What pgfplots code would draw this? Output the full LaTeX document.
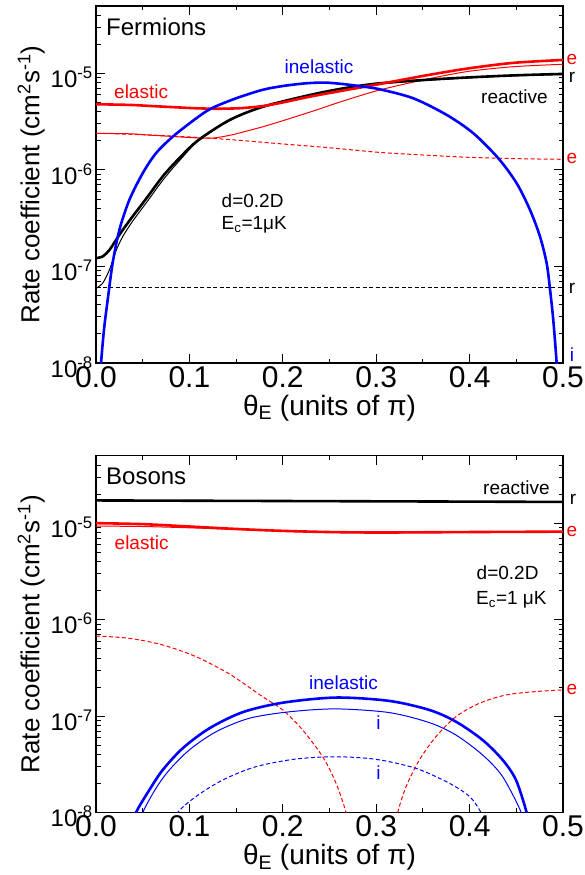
\documentclass[border=0pt]{standalone}
\usepackage{fontspec}
\setmainfont{Liberation Sans}
\usepackage{pgfplots}
\pgfplotsset{compat=1.18}
\newcommand\fs[1]{\fontsize{#1}{#1}\selectfont}
\definecolor{myred}{RGB}{255,0,0}
\definecolor{myblue}{RGB}{0,0,255}
\pgfplotsset{
  thickl/.style={line width=2.6pt, smooth},
  thinl/.style={line width=1pt, smooth},
  dashl/.style={line width=1pt, smooth, dash pattern=on 4pt off 2.5pt},
}
\begin{document}
\begin{tikzpicture}
\useasboundingbox (0,0) rectangle (584pt,875pt);
% ---------------- Fermions ----------------
\begin{axis}[at={(96pt,512pt)},
    width=467pt, height=357pt, scale only axis, anchor=south west,
    xmin=0, xmax=0.5, ymode=log, ymin=1e-8, ymax=5e-5,
    xtick={0,0.1,0.2,0.3,0.4,0.5}, xticklabels={0.0,0.1,0.2,0.3,0.4,0.5},
    minor xtick={0.05,0.15,0.25,0.35,0.45},
    ytick={1e-8,1e-7,1e-6,1e-5},
    yticklabels={10\textsuperscript{-8},10\textsuperscript{-7},10\textsuperscript{-6},10\textsuperscript{-5}},
    minor ytick={2e-8,3e-8,4e-8,5e-8,6e-8,7e-8,8e-8,9e-8,2e-7,3e-7,4e-7,5e-7,6e-7,7e-7,8e-7,9e-7,2e-6,3e-6,4e-6,5e-6,6e-6,7e-6,8e-6,9e-6,2e-5,3e-5,4e-5},
    major tick length=9pt, minor tick length=4.5pt,
    tick style={black, line width=1pt},
    tick align=inside,
    axis line style={line width=1.2pt},
    xticklabel style={font=\fs{30}, anchor=north, inner sep=0pt, yshift=-3pt},
    yticklabel style={font=\fs{24}, anchor=east, inner sep=0pt, xshift=-3pt, yshift=-4pt},
    xlabel={θ\textsubscript{E} (units of π)},
    ylabel={Rate coefficient (cm\textsuperscript{2}s\textsuperscript{-1})},
    xlabel style={font=\fs{28}, at={(axis description cs:0.5,-0.1457)}, anchor=base, inner sep=0pt},
    ylabel style={font=\fs{26}, at={(axis description cs:-0.121,0.5)}, anchor=base, inner sep=0pt},
]
% black dashed
\addplot[black, dashl] coordinates {(0,6.0e-8) (0.25,6.0e-8) (0.5,6.0e-8)};
% red dashed
\addplot[myred, dashl] coordinates {(0,2.40e-6) (0.05,2.32e-6) (0.107,2.18e-6) (0.15,2.04e-6) (0.2,1.86e-6) (0.25,1.70e-6) (0.304,1.52e-6) (0.35,1.43e-6) (0.397,1.355e-6) (0.45,1.31e-6) (0.5,1.29e-6)};
% black thin
\addplot[black, thinl] coordinates {(0,5.94e-8) (0.0071,6.70e-8) (0.0143,9.20e-8) (0.0214,1.45e-7) (0.0286,2.04e-7) (0.0393,2.95e-7) (0.0535,4.52e-7) (0.072,7.94e-7) (0.09,1.27e-6) (0.1096,2.00e-6) (0.1435,3.27e-6) (0.179,4.49e-6) (0.229,5.94e-6) (0.2645,6.95e-6) (0.3005,7.76e-6) (0.3505,8.45e-6) (0.397,8.97e-6) (0.447,9.45e-6) (0.5,9.77e-6)};
% red thin
\addplot[myred, thinl] coordinates {(0,2.40e-6) (0.0364,2.37e-6) (0.0535,2.31e-6) (0.08,2.23e-6) (0.1078,2.15e-6) (0.125,2.14e-6) (0.1435,2.29e-6) (0.16,2.51e-6) (0.179,2.81e-6) (0.2,3.24e-6) (0.229,3.98e-6) (0.268,5.31e-6) (0.304,6.75e-6) (0.3505,8.57e-6) (0.397,1.045e-5) (0.447,1.175e-5) (0.5,1.245e-5)};
% black thick
\addplot[black, thickl] coordinates {(0,1.22e-7) (0.0071,1.27e-7) (0.0143,1.48e-7) (0.0214,1.88e-7) (0.0286,2.39e-7) (0.0393,3.31e-7) (0.0535,5.01e-7) (0.072,8.71e-7) (0.09,1.35e-6) (0.1096,2.04e-6) (0.1435,3.31e-6) (0.179,4.53e-6) (0.229,5.98e-6) (0.2645,7.0e-6) (0.3005,7.85e-6) (0.3505,8.55e-6) (0.397,9.08e-6) (0.447,9.55e-6) (0.5,9.89e-6)};
% red thick
\addplot[myred, thickl] coordinates {(0,4.80e-6) (0.0364,4.72e-6) (0.0535,4.63e-6) (0.08,4.49e-6) (0.107,4.36e-6) (0.13,4.31e-6) (0.155,4.37e-6) (0.179,4.60e-6) (0.2,5.01e-6) (0.229,5.75e-6) (0.26,6.53e-6) (0.3005,7.67e-6) (0.3505,9.44e-6) (0.397,1.122e-5) (0.447,1.288e-5) (0.5,1.38e-5)};
% blue thick
\addplot[myblue, thickl] coordinates {(0.0045,7.08e-9) (0.0054,1.0e-8) (0.0085,2.19e-8) (0.0125,4.50e-8) (0.0178,1.08e-7) (0.025,2.39e-7) (0.0357,4.89e-7) (0.05,9.25e-7) (0.0642,1.49e-6) (0.0821,2.21e-6) (0.105,3.30e-6) (0.123,4.32e-6) (0.15,5.53e-6) (0.178,6.75e-6) (0.2,7.41e-6) (0.225,7.91e-6) (0.245,8.04e-6) (0.265,7.76e-6) (0.285,7.33e-6) (0.304,6.85e-6) (0.3397,5.53e-6) (0.3755,3.72e-6) (0.404,2.40e-6) (0.4308,1.32e-6) (0.4504,7.28e-7) (0.4647,3.85e-7) (0.4754,2.04e-7) (0.4825,1.08e-7) (0.486,5.93e-8) (0.4896,2.79e-8) (0.4932,1.0e-8) (0.4942,6.31e-9)};
\end{axis}
% ---------------- Bosons ----------------
\begin{axis}[at={(96pt,62.3pt)},
    width=467pt, height=357pt, scale only axis, anchor=south west,
    xmin=0, xmax=0.5, ymode=log, ymin=1e-8, ymax=5e-5,
    xtick={0,0.1,0.2,0.3,0.4,0.5}, xticklabels={0.0,0.1,0.2,0.3,0.4,0.5},
    minor xtick={0.05,0.15,0.25,0.35,0.45},
    ytick={1e-8,1e-7,1e-6,1e-5},
    yticklabels={10\textsuperscript{-8},10\textsuperscript{-7},10\textsuperscript{-6},10\textsuperscript{-5}},
    minor ytick={2e-8,3e-8,4e-8,5e-8,6e-8,7e-8,8e-8,9e-8,2e-7,3e-7,4e-7,5e-7,6e-7,7e-7,8e-7,9e-7,2e-6,3e-6,4e-6,5e-6,6e-6,7e-6,8e-6,9e-6,2e-5,3e-5,4e-5},
    major tick length=9pt, minor tick length=4.5pt,
    tick style={black, line width=1pt},
    tick align=inside,
    axis line style={line width=1.2pt},
    xticklabel style={font=\fs{30}, anchor=north, inner sep=0pt, yshift=-3pt},
    yticklabel style={font=\fs{24}, anchor=east, inner sep=0pt, xshift=-3pt, yshift=-4pt},
    xlabel={θ\textsubscript{E} (units of π)},
    ylabel={Rate coefficient (cm\textsuperscript{2}s\textsuperscript{-1})},
    xlabel style={font=\fs{28}, at={(axis description cs:0.5,-0.1457)}, anchor=base, inner sep=0pt},
    ylabel style={font=\fs{26}, at={(axis description cs:-0.121,0.5)}, anchor=base, inner sep=0pt},
]
% red dashed
\addplot[myred, dashl] coordinates {(0,6.78e-7) (0.0357,6.41e-7) (0.0714,5.47e-7) (0.107,4.14e-7) (0.1428,2.74e-7) (0.1785,1.59e-7) (0.2,1.16e-7) (0.2213,7.19e-8) (0.2427,3.80e-8) (0.257,2.02e-8) (0.2677,1.0e-8) (0.270,6.3e-9)};
\addplot[myred, dashl] coordinates {(0.321,6.3e-9) (0.323,1.0e-8) (0.332,1.86e-8) (0.3462,3.52e-8) (0.364,6.14e-8) (0.3854,9.89e-8) (0.4104,1.36e-7) (0.439,1.66e-7) (0.471,1.80e-7) (0.5,1.87e-7)};
% blue dashed
\addplot[myblue, dashl] coordinates {(0.085,7.08e-9) (0.0874,1.0e-8) (0.107,1.47e-8) (0.1356,2.18e-8) (0.1713,3.0e-8) (0.214,3.60e-8) (0.257,3.80e-8) (0.3,3.57e-8) (0.3426,2.88e-8) (0.3783,2.02e-8) (0.4,1.47e-8) (0.4122,1.0e-8) (0.415,7.08e-9)};
% blue thin
\addplot[myblue, thinl] coordinates {(0.048,7.08e-9) (0.05,1.0e-8) (0.0642,1.79e-8) (0.0785,2.77e-8) (0.0999,4.47e-8) (0.1285,6.90e-8) (0.164,9.51e-8) (0.207,1.11e-7) (0.257,1.19e-7) (0.314,1.09e-7) (0.357,8.57e-8) (0.3854,6.38e-8) (0.414,3.96e-8) (0.4354,2.36e-8) (0.4554,1.0e-8) (0.457,7.08e-9)};
% blue thick
\addplot[myblue, thickl] coordinates {(0.040,7.08e-9) (0.0428,1.0e-8) (0.0571,1.72e-8) (0.0714,2.77e-8) (0.0928,4.65e-8) (0.1213,7.48e-8) (0.157,1.10e-7) (0.2,1.38e-7) (0.257,1.56e-7) (0.314,1.44e-7) (0.357,1.16e-7) (0.3854,8.77e-8) (0.414,5.66e-8) (0.4354,3.52e-8) (0.4497,2.18e-8) (0.4611,1.0e-8) (0.463,7.08e-9)};
% red thin
\addplot[myred, thinl] coordinates {(0,9.33e-6) (0.05,9.23e-6) (0.1,8.95e-6) (0.15,8.61e-6) (0.2,8.26e-6) (0.25,8.04e-6) (0.3,7.94e-6) (0.4,8.02e-6) (0.5,8.09e-6)};
% red thick
\addplot[myred, thickl] coordinates {(0,1.0e-5) (0.05,9.77e-6) (0.1,9.23e-6) (0.15,8.71e-6) (0.2,8.32e-6) (0.25,8.09e-6) (0.3,8.0e-6) (0.35,8.04e-6) (0.4,8.09e-6) (0.45,8.13e-6) (0.5,8.17e-6)};
% black thick
\addplot[black, thickl] coordinates {(0,1.72e-5) (0.25,1.69e-5) (0.5,1.66e-5)};
\end{axis}
% ---------------- annotations ----------------
\begin{scope}[every node/.style={inner sep=0pt}]
% top panel
\node[anchor=base west, font=\fs{24}] at (106pt,839pt) {Fermions};
\node[anchor=base west, font=\fs{19}, text=myred] at (114pt,776.7pt) {elastic};
\node[anchor=base west, font=\fs{19}, text=myblue] at (284.5pt,801pt) {inelastic};
\node[anchor=base west, font=\fs{19}] at (481pt,771.7pt) {reactive};
\node[anchor=base west, font=\fs{19}] at (221.5pt,667.5pt) {d=0.2D};
\node[anchor=base west, font=\fs{19}] at (221.5pt,645pt) {E\textsubscript{c}=1μK};
\node[anchor=base, font=\fs{19}, text=myred] at (572pt,810pt) {e};
\node[anchor=base, font=\fs{19}] at (572pt,792.3pt) {r};
\node[anchor=base, font=\fs{19}, text=myred] at (572pt,711pt) {e};
\node[anchor=base, font=\fs{19}] at (572pt,581.7pt) {r};
\node[anchor=base, font=\fs{19}, text=myblue] at (572pt,513.3pt) {i};
% bottom panel
\node[anchor=base west, font=\fs{24}] at (106pt,390pt) {Bosons};
\node[anchor=base west, font=\fs{19}] at (483pt,380pt) {reactive};
\node[anchor=base west, font=\fs{19}, text=myred] at (114.5pt,325.7pt) {elastic};
\node[anchor=base west, font=\fs{19}] at (476.5pt,295.7pt) {d=0.2D};
\node[anchor=base west, font=\fs{19}] at (476pt,270pt) {E\textsubscript{c}=1 μK};
\node[anchor=base west, font=\fs{19}, text=myblue] at (309pt,185.7pt) {inelastic};
\node[anchor=base, font=\fs{19}, text=myblue] at (378.5pt,145.7pt) {i};
\node[anchor=base, font=\fs{19}, text=myblue] at (378.5pt,95pt) {i};
\node[anchor=base, font=\fs{19}] at (573pt,370pt) {r};
\node[anchor=base, font=\fs{19}, text=myred] at (572pt,338.3pt) {e};
\node[anchor=base, font=\fs{19}, text=myred] at (572pt,180pt) {e};
\end{scope}
\end{tikzpicture}
\end{document}
